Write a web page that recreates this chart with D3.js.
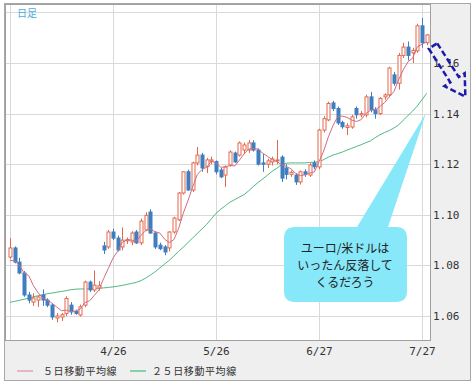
<!DOCTYPE html>
<html>
<head>
<meta charset="utf-8">
<script src="https://cdn.jsdelivr.net/npm/d3@7"></script>
<style>
  body { margin: 0; background: #fff; }
  svg { display: block; }
</style>
</head>
<body>
<div class="chart"></div>
<script>
// EUR/USD daily candles, 3/27 - 7/28
var dates = ["3/27","3/28","3/29","3/30","3/31","4/3","4/4","4/5","4/6","4/7",
  "4/10","4/11","4/12","4/13","4/14","4/17","4/18","4/19","4/20","4/21",
  "4/24","4/25","4/26","4/27","4/28","5/1","5/2","5/3","5/4","5/5",
  "5/8","5/9","5/10","5/11","5/12","5/15","5/16","5/17","5/18","5/19",
  "5/22","5/23","5/24","5/25","5/26","5/29","5/30","5/31","6/1","6/2",
  "6/5","6/6","6/7","6/8","6/9","6/12","6/13","6/14","6/15","6/16",
  "6/19","6/20","6/21","6/22","6/23","6/26","6/27","6/28","6/29","6/30",
  "7/3","7/4","7/5","7/6","7/7","7/10","7/11","7/12","7/13","7/14",
  "7/17","7/18","7/19","7/20","7/21","7/24","7/25","7/26","7/27","7/28"];

var open = [1.0833,1.0869,1.0813,1.0770,1.0683,1.0655,1.0663,1.0683,1.0663,1.0643,
  1.0592,1.0596,1.0610,1.0643,1.0618,1.0604,1.0643,1.0734,1.0703,1.0710,
  1.0877,1.0873,1.0932,1.0908,1.0873,1.0897,1.0893,1.0932,1.0889,1.0940,
  1.1011,1.0928,1.0880,1.0873,1.0869,1.0932,1.0980,1.1086,1.1170,1.1098,
  1.1205,1.1236,1.1190,1.1212,1.1210,1.1177,1.1157,1.1197,1.1244,1.1236,
  1.1256,1.1256,1.1284,1.1256,1.1205,1.1200,1.1209,1.1213,1.1228,1.1185,
  1.1160,1.1157,1.1130,1.1170,1.1157,1.1205,1.1189,1.1335,1.1375,1.1442,
  1.1420,1.1365,1.1345,1.1347,1.1420,1.1395,1.1395,1.1466,1.1415,1.1400,
  1.1466,1.1474,1.1553,1.1520,1.1630,1.1663,1.1640,1.1648,1.1747,1.1680];

var high = [1.0908,1.0875,1.0830,1.0778,1.0695,1.0690,1.0680,1.0705,1.0670,1.0650,
  1.0612,1.0612,1.0678,1.0655,1.0625,1.0645,1.0740,1.0740,1.0780,1.0738,
  1.0893,1.0940,1.0945,1.0918,1.0950,1.0910,1.0935,1.0940,1.0985,1.1010,
  1.1022,1.0935,1.0890,1.0880,1.0935,1.0992,1.1090,1.1172,1.1178,1.1210,
  1.1268,1.1245,1.1225,1.1230,1.1215,1.1185,1.1195,1.1255,1.1250,1.1290,
  1.1285,1.1296,1.1295,1.1262,1.1240,1.1222,1.1230,1.1296,1.1235,1.1200,
  1.1175,1.1165,1.1175,1.1180,1.1205,1.1215,1.1340,1.1390,1.1447,1.1450,
  1.1428,1.1372,1.1362,1.1395,1.1428,1.1410,1.1475,1.1485,1.1425,1.1465,
  1.1480,1.1585,1.1565,1.1640,1.1680,1.1685,1.1660,1.1755,1.1778,1.1715];

var low = [1.0826,1.0808,1.0765,1.0676,1.0650,1.0640,1.0636,1.0640,1.0635,1.0585,
  1.0575,1.0580,1.0600,1.0605,1.0605,1.0598,1.0635,1.0695,1.0695,1.0700,
  1.0845,1.0865,1.0900,1.0855,1.0860,1.0885,1.0880,1.0885,1.0880,1.0935,
  1.0925,1.0865,1.0860,1.0840,1.0855,1.0925,1.0975,1.1080,1.1095,1.1090,
  1.1195,1.1170,1.1165,1.1200,1.1160,1.1145,1.1110,1.1190,1.1205,1.1230,
  1.1240,1.1245,1.1250,1.1195,1.1170,1.1185,1.1195,1.1200,1.1130,1.1140,
  1.1150,1.1118,1.1120,1.1150,1.1150,1.1180,1.1180,1.1325,1.1370,1.1410,
  1.1355,1.1340,1.1315,1.1340,1.1380,1.1385,1.1385,1.1405,1.1380,1.1395,
  1.1455,1.1465,1.1510,1.1495,1.1620,1.1610,1.1600,1.1640,1.1660,1.1670];

var close = [1.0869,1.0813,1.0770,1.0683,1.0663,1.0671,1.0675,1.0663,1.0643,1.0596,
  1.0600,1.0605,1.0669,1.0616,1.0610,1.0636,1.0734,1.0703,1.0722,1.0720,
  1.0861,1.0932,1.0908,1.0861,1.0900,1.0902,1.0928,1.0889,1.0975,1.0998,
  1.0928,1.0873,1.0866,1.0853,1.0932,1.0987,1.1086,1.1170,1.1098,1.1205,
  1.1236,1.1185,1.1217,1.1217,1.1170,1.1150,1.1189,1.1248,1.1209,1.1284,
  1.1276,1.1284,1.1256,1.1200,1.1200,1.1213,1.1221,1.1217,1.1145,1.1160,
  1.1168,1.1130,1.1170,1.1160,1.1197,1.1190,1.1335,1.1380,1.1440,1.1420,
  1.1363,1.1348,1.1352,1.1387,1.1395,1.1400,1.1466,1.1415,1.1400,1.1460,
  1.1474,1.1580,1.1520,1.1630,1.1663,1.1630,1.1650,1.1747,1.1680,1.1711];

// 5日移動平均線
var ma5 = [1.0820,1.0818,1.0800,1.0770,1.0760,1.0720,1.0692,1.0671,1.0663,1.0650,
  1.0635,1.0621,1.0623,1.0617,1.0620,1.0627,1.0653,1.0660,1.0681,1.0703,
  1.0748,1.0788,1.0829,1.0856,1.0892,1.0901,1.0900,1.0896,1.0919,1.0938,
  1.0944,1.0933,1.0928,1.0904,1.0890,1.0902,1.0945,1.1006,1.1055,1.1109,
  1.1159,1.1179,1.1188,1.1212,1.1205,1.1188,1.1189,1.1195,1.1193,1.1216,
  1.1241,1.1260,1.1262,1.1260,1.1243,1.1231,1.1218,1.1210,1.1199,1.1191,
  1.1182,1.1164,1.1155,1.1158,1.1165,1.1169,1.1210,1.1252,1.1308,1.1353,
  1.1388,1.1390,1.1385,1.1374,1.1369,1.1376,1.1400,1.1413,1.1415,1.1428,
  1.1443,1.1466,1.1487,1.1533,1.1573,1.1605,1.1619,1.1664,1.1674,1.1684];

// 25日移動平均線
var ma25 = [1.0654,1.0658,1.0662,1.0666,1.0671,1.0676,1.0680,1.0684,1.0688,1.0691,
  1.0694,1.0697,1.0700,1.0704,1.0706,1.0707,1.0707,1.0708,1.0709,1.0710,
  1.0711,1.0713,1.0715,1.0718,1.0721,1.0725,1.0729,1.0733,1.0740,1.0750,
  1.0762,1.0775,1.0790,1.0805,1.0820,1.0837,1.0855,1.0872,1.0890,1.0908,
  1.0926,1.0944,1.0962,1.0984,1.1006,1.1022,1.1036,1.1050,1.1060,1.1070,
  1.1080,1.1095,1.1112,1.1128,1.1142,1.1157,1.1172,1.1184,1.1198,1.1204,
  1.1205,1.1205,1.1205,1.1205,1.1207,1.1208,1.1210,1.1218,1.1228,1.1236,
  1.1242,1.1248,1.1256,1.1263,1.1270,1.1277,1.1285,1.1292,1.1305,1.1316,
  1.1325,1.1333,1.1343,1.1355,1.1374,1.1392,1.1410,1.1430,1.1455,1.1480];

var yTicks = [1.06, 1.08, 1.10, 1.12, 1.14, 1.16];
var yGrid = [1.06, 1.08, 1.10, 1.12, 1.14, 1.16, 1.18];
var xTicks = ["4/26", "5/26", "6/27", "7/27"];
var xGrid = ["3/27", "4/26", "5/26", "6/27", "7/27"];
var legendLabels = ["５日移動平均線", "２５日移動平均線"];
var noteLines = ["ユーロ/米ドルは", "いったん反落して", "くるだろう"];

var W = 474, H = 385;
var plot = {left: 5, top: 4, right: 430, bottom: 340};

var upColor = "#e2694c", downColor = "#3f7fc0";
var ma5Color = "#cf6d82", ma25Color = "#4dba80";

var svg = d3.select(".chart").append("svg")
    .attr("width", W)
    .attr("height", H);

// outer frame
svg.append("rect")
    .attr("x", 4.5).attr("y", 3.5)
    .attr("width", 466).attr("height", 377)
    .attr("fill", "#efefef")
    .attr("stroke", "#a8a8a8");

svg.append("rect")
    .attr("x", plot.left).attr("y", plot.top)
    .attr("width", plot.right - plot.left).attr("height", plot.bottom - plot.top)
    .attr("fill", "#fff");

var x = d3.scaleLinear()
    .domain([0, dates.length - 2])
    .range([10, 422]);

var y = d3.scaleLinear()
    .domain([1.06, 1.16])
    .range([316, 63]);

// grid
svg.append("g")
    .attr("class", "grid")
    .attr("transform", "translate(" + plot.right + ",0)")
    .call(d3.axisRight(y).tickValues(yGrid).tickSize(-(plot.right - plot.left)).tickFormat(""))
    .call(function (g) { g.select(".domain").remove(); });

svg.append("g")
    .attr("class", "grid")
    .attr("transform", "translate(0," + plot.bottom + ")")
    .call(d3.axisBottom(x).tickValues(xGrid.map(function (d) { return dates.indexOf(d); }))
        .tickSize(-(plot.bottom - plot.top)).tickFormat(""))
    .call(function (g) { g.select(".domain").remove(); });

svg.selectAll(".grid line")
    .attr("stroke", "#d9d9d9")
    .attr("shape-rendering", "crispEdges");

svg.append("defs").append("clipPath")
    .attr("id", "clip")
    .append("rect")
    .attr("x", plot.left).attr("y", plot.top)
    .attr("width", plot.right - plot.left).attr("height", plot.bottom - plot.top);

var chart = svg.append("g").attr("clip-path", "url(#clip)");

// 25 MA
chart.append("path")
    .datum(ma25)
    .attr("fill", "none")
    .attr("stroke", ma25Color)
    .attr("stroke-width", 1)
    .attr("d", d3.line().x(function (d, i) { return x(i); }).y(function (d) { return y(d); }));

// candles
var candles = chart.selectAll(".candle")
    .data(dates)
    .enter()
    .append("g")
    .attr("class", "candle");

candles.append("line")
    .attr("x1", function (d, i) { return Math.round(x(i)) + 0.5; })
    .attr("x2", function (d, i) { return Math.round(x(i)) + 0.5; })
    .attr("y1", function (d, i) { return y(high[i]); })
    .attr("y2", function (d, i) { return y(low[i]); })
    .attr("stroke", function (d, i) { return close[i] >= open[i] ? upColor : downColor; })
    .attr("stroke-width", 1);

candles.append("rect")
    .attr("x", function (d, i) { return Math.round(x(i)) - 1; })
    .attr("y", function (d, i) { return y(Math.max(open[i], close[i])); })
    .attr("width", 3)
    .attr("height", function (d, i) { return Math.max(1, Math.abs(y(open[i]) - y(close[i]))); })
    .attr("fill", function (d, i) { return close[i] >= open[i] ? "#fff" : downColor; })
    .attr("stroke", function (d, i) { return close[i] >= open[i] ? upColor : downColor; })
    .attr("stroke-width", 1);

// 5 MA
chart.append("path")
    .datum(ma5)
    .attr("fill", "none")
    .attr("stroke", ma5Color)
    .attr("stroke-width", 1)
    .attr("d", d3.line().x(function (d, i) { return x(i); }).y(function (d) { return y(d); }));

// plot border
svg.append("rect")
    .attr("x", plot.left + 0.5).attr("y", plot.top + 0.5)
    .attr("width", plot.right - plot.left).attr("height", plot.bottom - plot.top)
    .attr("fill", "none")
    .attr("stroke", "#a0a0a0");

// axes labels
var yAxis = svg.append("g")
    .attr("transform", "translate(" + plot.right + ",0)")
    .call(d3.axisRight(y).tickValues(yTicks).tickSize(0).tickPadding(3).tickFormat(d3.format(".2f")));
yAxis.select(".domain").remove();

var xAxis = svg.append("g")
    .attr("transform", "translate(0," + plot.bottom + ")")
    .call(d3.axisBottom(x).tickValues(xTicks.map(function (d) { return dates.indexOf(d); }))
        .tickSize(0).tickPadding(7).tickFormat(function (i) { return dates[i]; }));
xAxis.select(".domain").remove();

svg.selectAll(".tick text")
    .attr("fill", "#333")
    .style("font-family", "'DejaVu Sans Mono', monospace")
    .style("font-size", "11px");

// 日足
svg.append("text")
    .attr("x", 17).attr("y", 17)
    .attr("fill", "#4aaee0")
    .style("font-family", "'Noto Sans CJK JP'")
    .style("font-size", "10px")
    .text("日足");

// legend
var legend = svg.selectAll(".legend")
    .data(legendLabels)
    .enter()
    .append("g")
    .attr("class", "legend")
    .attr("transform", function (d, i) { return "translate(" + [17, 130][i] + ",371)"; });

legend.append("line")
    .attr("x1", 0).attr("x2", 16)
    .attr("stroke", function (d, i) { return i === 0 ? "#e6a2b6" : "#66c496"; })
    .attr("stroke-width", 1.5);

legend.append("text")
    .attr("x", function (d, i) { return i === 0 ? 26 : 22; })
    .attr("y", 4)
    .attr("fill", "#333")
    .style("font-family", "'Noto Sans CJK JP'")
    .style("font-size", "10px")
    .style("letter-spacing", "0.6px")
    .text(function (d) { return d; });

// callout
var bx = 284, by = 227, bw = 123, bh = 75, r = 11;
var p = d3.path();
p.moveTo(bx + r, by);
p.lineTo(357, by);
p.lineTo(426, 113);
p.lineTo(388, by);
p.lineTo(bx + bw - r, by);
p.quadraticCurveTo(bx + bw, by, bx + bw, by + r);
p.lineTo(bx + bw, by + bh - r);
p.quadraticCurveTo(bx + bw, by + bh, bx + bw - r, by + bh);
p.lineTo(bx + r, by + bh);
p.quadraticCurveTo(bx, by + bh, bx, by + bh - r);
p.lineTo(bx, by + r);
p.quadraticCurveTo(bx, by, bx + r, by);
p.closePath();

svg.append("path")
    .attr("d", p.toString())
    .attr("fill", "#86e8f8");

svg.selectAll(".note")
    .data(noteLines)
    .enter()
    .append("text")
    .attr("class", "note")
    .attr("x", 345)
    .attr("y", function (d, i) { return 253 + i * 17; })
    .attr("text-anchor", "middle")
    .attr("fill", "#222")
    .style("font-family", "'Noto Sans CJK JP'")
    .style("font-size", "12px")
    .text(function (d) { return d; });

// dashed arrow
var ax = 433, ay = 46, ang = Math.atan2(50, 32) * 180 / Math.PI;
svg.append("path")
    .attr("transform", "translate(" + ax + "," + ay + ") rotate(" + ang + ")")
    .attr("d", "M0,-5 L40,-5 L40,-12 L60,0 L40,12 L40,5 L0,5 Z")
    .attr("fill", "none")
    .attr("stroke", "#1c1ca8")
    .attr("stroke-width", 2.5)
    .attr("stroke-dasharray", "6,3");
</script>
</body>
</html>
